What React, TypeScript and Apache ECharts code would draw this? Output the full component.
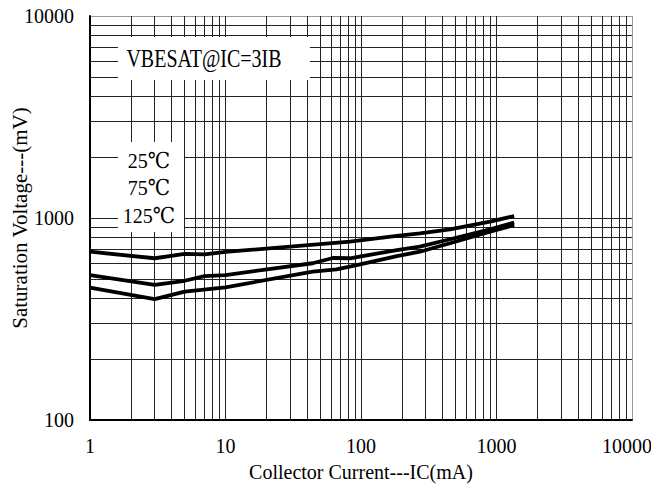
import React, { useEffect, useRef } from "react";
import * as echarts from "echarts";

// Collector current (mA) and saturation voltage (mV)
const x25 = [1, 3, 5, 7, 10, 83, 184, 272, 454, 896, 1350];
const v25 = [681, 632, 664, 660, 679, 763, 815, 839, 879, 960, 1023];

const x75 = [1, 3, 5, 7, 10, 44, 62, 83, 184, 272, 454, 896, 1350];
const v75 = [522, 466, 489, 516, 522, 597, 634, 632, 694, 721, 785, 879, 949];

const x125 = [1, 3, 5, 10, 44, 66, 93, 184, 272, 454, 896, 1350];
const v125 = [452, 397, 432, 454, 542, 557, 585, 648, 681, 750, 855, 923];

// Minor grid values (log decades)
const xMinorGrid = [
  2, 3, 4, 5, 6, 7, 8, 9,
  20, 30, 40, 50, 60, 70, 80, 90,
  200, 300, 400, 500, 600, 700, 800, 900,
  2000, 3000, 4000, 5000, 6000, 7000, 8000, 9000,
];
const yMinorGrid = [
  200, 300, 400, 500, 600, 700, 800, 900,
  2000, 3000, 4000, 5000, 6000, 7000, 8000, 9000,
];

const legendLabels = ["25\u2103", "75\u2103", "125\u2103"];
const conditionLabel = "VBESAT@IC=3IB";
const xTitle = "Collector Current---IC(mA)";
const yTitle = "Saturation Voltage---(mV)";

const FONT = "'Liberation Serif', 'DejaVu Serif', serif";

function pairs(xs: number[], ys: number[]) {
  return xs.map((x, i) => [x, ys[i]]);
}

export default function App() {
  const ref = useRef<HTMLDivElement>(null);
  useEffect(() => {
    if (!ref.current) return;
    const chart = echarts.init(ref.current, undefined, { renderer: "svg" });
    const curveStyle = { color: "#000", width: 3.8, cap: "butt" as const };
    const fmt = (v: number) => String(Math.round(v));
    const xFmt = (v: number) =>
      Math.round(v) >= 10000 ? `{last|${Math.round(v)}}` : String(Math.round(v));
    chart.setOption({
      animation: false,
      backgroundColor: "#fff",
      grid: {
        left: 90,
        right: 19,
        top: 16,
        bottom: 70,
        containLabel: false,
        outerBoundsMode: "none",
      },
      xAxis: {
        type: "log",
        logBase: 10,
        min: 1,
        max: 10000,
        name: xTitle,
        nameLocation: "middle",
        nameGap: 42,
        nameMoveOverlap: false,
        nameTextStyle: { fontFamily: FONT, fontSize: 20, color: "#000" },
        axisLine: { show: true, lineStyle: { color: "#000", width: 2 } },
        axisTick: { show: false },
        axisLabel: {
          fontFamily: FONT,
          fontSize: 20,
          color: "#000",
          margin: 16,
          formatter: xFmt,
          rich: {
            last: {
              fontFamily: FONT,
              fontSize: 20,
              color: "#000",
              padding: [0, 10, 0, 0],
            },
          },
        },
        splitLine: {
          show: true,
          lineStyle: { color: ["#222", "#222", "#222", "#222", "#999"], width: 1 },
        },
      },
      yAxis: {
        type: "log",
        logBase: 10,
        min: 100,
        max: 10000,
        name: yTitle,
        nameLocation: "middle",
        nameGap: 60,
        nameMoveOverlap: false,
        nameTextStyle: { fontFamily: FONT, fontSize: 21, color: "#000" },
        axisLine: { show: true, lineStyle: { color: "#000", width: 2 } },
        axisTick: { show: false },
        axisLabel: {
          fontFamily: FONT,
          fontSize: 20,
          color: "#000",
          margin: 16,
          formatter: fmt,
        },
        splitLine: {
          show: true,
          lineStyle: { color: ["#222", "#222", "#999"], width: 1 },
        },
      },
      series: [
        {
          type: "line",
          data: [[1, 100]],
          symbol: "none",
          silent: true,
          lineStyle: { opacity: 0 },
          z: 1,
          markLine: {
            silent: true,
            symbol: "none",
            label: { show: false },
            lineStyle: { color: "#222", width: 1, type: "solid" },
            data: [
              ...xMinorGrid.map((v) => ({ xAxis: v })),
              ...yMinorGrid.map((v) => ({ yAxis: v })),
            ],
          },
        },
        {
          name: legendLabels[0],
          type: "line",
          data: pairs(x25, v25),
          symbol: "none",
          lineStyle: curveStyle,
          z: 5,
        },
        {
          name: legendLabels[1],
          type: "line",
          data: pairs(x75, v75),
          symbol: "none",
          lineStyle: curveStyle,
          z: 5,
        },
        {
          name: legendLabels[2],
          type: "line",
          data: pairs(x125, v125),
          symbol: "none",
          lineStyle: curveStyle,
          z: 5,
        },
      ],
      graphic: [
        {
          type: "rect",
          z: 100,
          shape: { x: 118, y: 37, width: 192, height: 43 },
          style: { fill: "#fff" },
        },
        {
          type: "text",
          z: 101,
          x: 204,
          y: 59,
          scaleY: 1.25,
          style: {
            text: conditionLabel,
            fontFamily: FONT,
            fontSize: 20,
            fill: "#000",
            align: "center",
            verticalAlign: "middle",
          },
        },
        {
          type: "rect",
          z: 100,
          shape: { x: 118, y: 142, width: 66, height: 90 },
          style: { fill: "#fff" },
        },
        ...legendLabels.map((t, i) => ({
          type: "text",
          z: 101,
          x: 149,
          y: [161, 188, 216][i],
          scaleY: 1.1,
          style: {
            text: t,
            fontFamily: FONT,
            fontSize: 20,
            fill: "#000",
            align: "center",
            verticalAlign: "middle",
          },
        })),
      ],
    });
    return () => chart.dispose();
  }, []);
  return (
    <div
      ref={ref}
      style={{ position: "fixed", left: 0, top: 0, width: 651, height: 490 }}
    />
  );
}
